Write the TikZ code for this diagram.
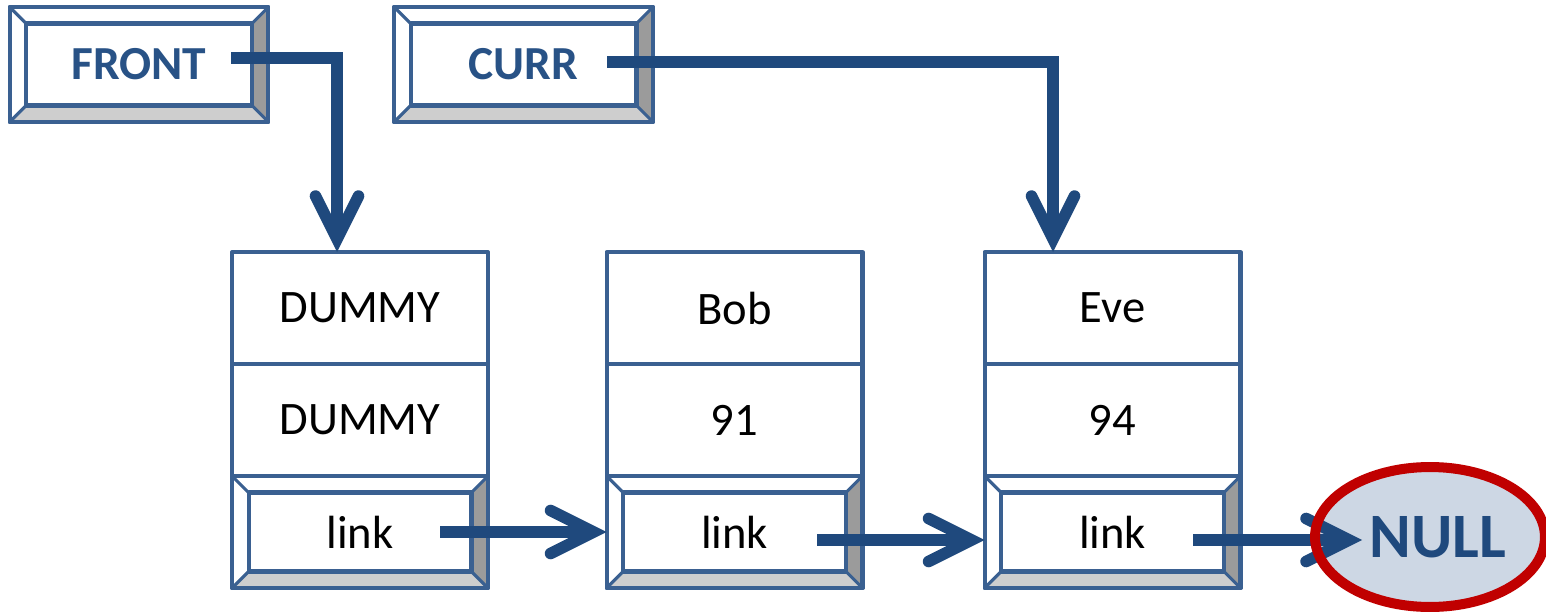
\documentclass[tikz,border=0pt]{standalone}
\usepackage{fontspec}
\setmainfont{Carlito}
\usetikzlibrary{arrows.meta,shapes.geometric,calc}

\definecolor{boxblue}{RGB}{58,96,145}
\definecolor{ptrblue}{RGB}{31,73,125}
\definecolor{labelblue}{RGB}{40,82,134}
\definecolor{bevdark}{RGB}{155,155,155}
\definecolor{bevlight}{RGB}{206,206,206}
\definecolor{nullfill}{RGB}{205,215,228}
\definecolor{nullred}{RGB}{192,0,0}

\tikzset{
  cell/.style={draw=boxblue, line width=2.3pt, line join=round,
    minimum width=5.12cm, minimum height=2.24cm, inner sep=0pt, outer sep=0pt,
    font=\fontsize{26.5}{30}\selectfont},
  varbox/.style={cell, minimum width=5.18cm, minimum height=2.3cm,
    text=labelblue, font=\fontsize{27}{30}\selectfont\bfseries},
  bevline/.style={draw=boxblue, line width=2.3pt, line join=round},
  ptr/.style={draw=ptrblue, line width=6.6pt, line join=miter,
    -{Straight Barb[line cap=round, line join=miter, length=0.86cm, width=0.86cm]}},
  nullnode/.style={ellipse, fill=nullfill, minimum width=4.6cm, minimum height=2.8cm,
    inner sep=0pt, outer sep=0pt, text=ptrblue,
    font=\fontsize{36}{40}\selectfont\bfseries},
  nullring/.style={draw=nullred, line width=5.7pt},
}

% bevelled frame drawn round an existing rectangular node
\newcommand\bevelframe[1]{%
  \coordinate (#1-a) at ([shift={(0.33cm,-0.33cm)}]#1.north west);
  \coordinate (#1-b) at ([shift={(-0.33cm,-0.33cm)}]#1.north east);
  \coordinate (#1-c) at ([shift={(-0.33cm,0.33cm)}]#1.south east);
  \coordinate (#1-d) at ([shift={(0.33cm,0.33cm)}]#1.south west);
  \fill[bevdark] (#1.north east) -- (#1.south east) -- (#1-c) -- (#1-b) -- cycle;
  \fill[bevlight] (#1.south west) -- (#1.south east) -- (#1-c) -- (#1-d) -- cycle;
  \draw[bevline] (#1-a) rectangle (#1-c);
  \draw[bevline, line width=1.8pt] (#1.north west) -- (#1-a) (#1.north east) -- (#1-b)
    (#1.south east) -- (#1-c) (#1.south west) -- (#1-d);
  \draw[bevline] (#1.north west) rectangle (#1.south east);
}

\begin{document}
\begin{tikzpicture}[x=0.02cm, y=-0.02cm]
\useasboundingbox (0,0) rectangle (1546,612);

% pointer variables
\node[varbox] (front) at (139,64.5) {FRONT};
\node[varbox] (curr) at (523.5,64.5) {CURR};
\bevelframe{front}
\bevelframe{curr}

% list nodes: name, score, link
\node[cell] (d1) at (360,308) {DUMMY};
\node[cell] (d2) at (360,420) {DUMMY};
\node[cell] (d3) at (360,532) {link};
\node[cell] (b1) at (734.5,308) {Bob};
\node[cell] (b2) at (734.5,420) {91};
\node[cell] (b3) at (734.5,532) {link};
\node[cell] (e1) at (1112.5,308) {Eve};
\node[cell] (e2) at (1112.5,420) {94};
\node[cell] (e3) at (1112.5,532) {link};
\bevelframe{d3}
\bevelframe{b3}
\bevelframe{e3}

% terminator
\node[nullnode] (null) at (1430,537) {\hspace*{0.32cm}NULL};

% pointers
\coordinate (fs) at (231,58);
\coordinate (cs) at (607,62);
\draw[ptr] (fs) -| ([xshift=-0.46cm]d1.north);
\draw[ptr] (cs) -| ([xshift=-1.19cm]e1.north);

\coordinate (ls1) at (440,532);
\coordinate (ls2) at (817,540);
\coordinate (ls3) at (1193,540);
\draw[ptr] (ls1) -- (b3.west |- ls1);
\draw[ptr] (ls2) -- (e3.west |- ls2);
\draw[ptr] (ls3) -- ([xshift=0.94cm]null.west |- ls3);

\draw[nullring] (null.center) ellipse [x radius=2.3cm, y radius=1.4cm];
\end{tikzpicture}
\end{document}
